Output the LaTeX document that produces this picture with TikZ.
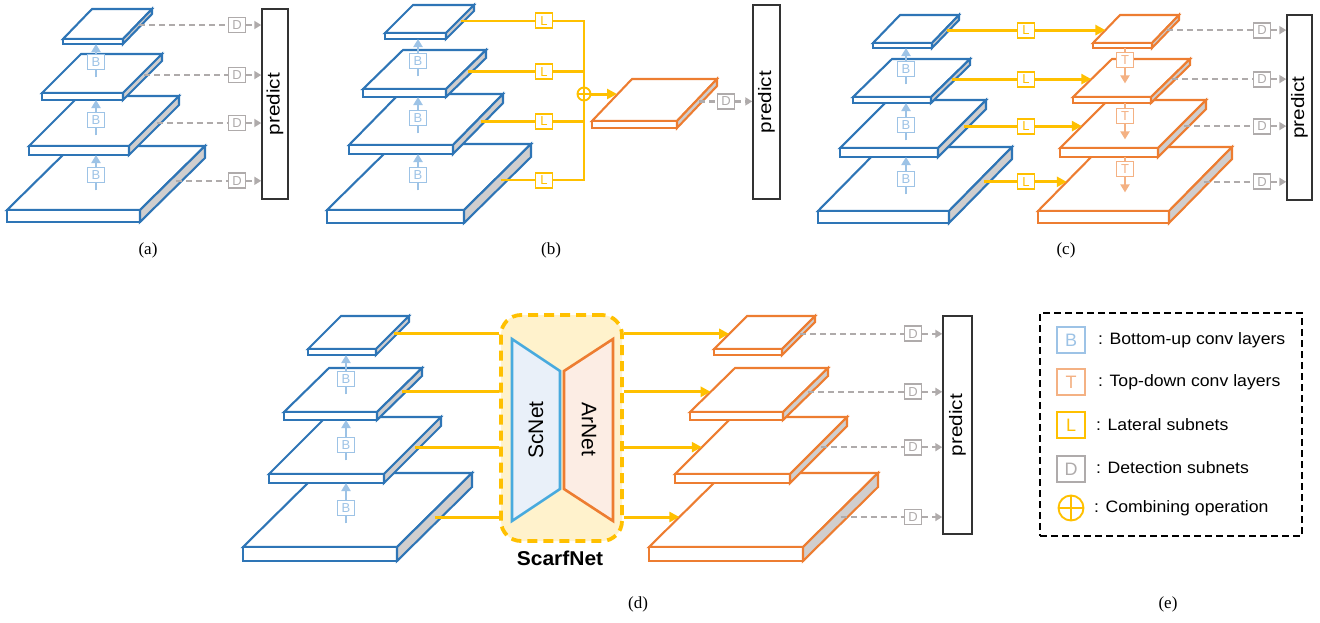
\documentclass[tikz,border=0pt]{standalone}
\usepackage{fontspec}
\setmainfont{Liberation Serif}
\setsansfont{Liberation Sans}
\usetikzlibrary{arrows.meta}
\definecolor{cblue}{RGB}{46,117,182}
\definecolor{clblue}{RGB}{157,195,230}
\definecolor{corange}{RGB}{237,125,49}
\definecolor{clorange}{RGB}{244,177,131}
\definecolor{cyellow}{RGB}{255,192,0}
\definecolor{cgray}{RGB}{175,171,171}
\definecolor{cside}{RGB}{208,206,206}
\definecolor{cscfill}{RGB}{255,242,204}
\definecolor{scline}{RGB}{72,170,222}
\definecolor{scfill}{RGB}{233,240,249}
\definecolor{arfill}{RGB}{252,237,228}
\newcommand\myfs[1]{\fontsize{#1}{#1}\selectfont}
% name x y w dx dy t colour f
\newcommand\slab[9]{%
  \filldraw[slabline,draw=#8,fill=white] (#2,#3) -- ({#2+#4},#3) -- ({#2+#4+#5},{#3-#6}) -- ({#2+#5},{#3-#6}) -- cycle;
  \filldraw[slabline,draw=#8,fill=white] (#2,#3) rectangle ({#2+#4},{#3+#7});
  \filldraw[slabline,draw=#8,fill=cside] ({#2+#4},#3) -- ({#2+#4+#5},{#3-#6}) -- ({#2+#4+#5},{#3-#6+#7}) -- ({#2+#4},{#3+#7}) -- cycle;
  \coordinate (#1-s) at ({#2+#4+#9*#5},{#3-#9*#6+#7/2});
  \coordinate (#1-l) at ({#2+(#9*#6-#7/2)*#5/#6},{#3-#9*#6+#7/2});
  \coordinate (#1-b) at ({#2+#4/2},{#3+#7});
}
\tikzset{
  slabline/.style={line width=2.1pt, line join=miter},
  smallbox/.style={draw, fill=white, line width=1.8pt, minimum width=17pt, minimum height=15pt, inner sep=0pt, font=\sffamily\myfs{13}},
  bbox/.style={smallbox, draw=clblue, text=clblue},
  tbox/.style={smallbox, draw=clorange, text=clorange},
  lbox/.style={smallbox, draw=cyellow, text=cyellow},
  dbox/.style={smallbox, draw=cgray, text=cgray},
  dline/.style={draw=cgray, line width=2.2pt, dash pattern=on 6pt off 4pt},
  darrow/.style={dline, -{Triangle[length=7pt,width=8pt]}},
  lline/.style={draw=cyellow, line width=2.2pt},
  larrow/.style={draw=cyellow, line width=3pt, -{Triangle[length=10pt,width=10pt]}},
  dlline/.style={draw=cyellow, line width=3pt},
  barrow/.style={draw=clblue, line width=2.8pt},
  barrowh/.style={barrow, -{Triangle[length=8pt,width=9pt]}},
  tarrow/.style={draw=clorange, line width=2.8pt},
  tarrowh/.style={tarrow, -{Triangle[length=8pt,width=9pt]}},
  pbox/.style={draw=black!80, line width=1.5pt, fill=white, inner sep=0pt, font=\sffamily\myfs{18}},
  captext/.style={font=\myfs{17}},
  plusnode/.style={circle, draw=cyellow, fill=white, line width=1.9pt, inner sep=0pt},
  legbox/.style={draw, fill=white, line width=2pt, minimum width=28pt, minimum height=26pt, inner sep=0pt, font=\sffamily\myfs{18}},
  legtext/.style={anchor=west, inner sep=0pt, font=\sffamily\myfs{16.5}},
}
\begin{document}
\begin{tikzpicture}[x=1pt,y=-1pt]
\useasboundingbox (0,0) rectangle (1320,622);
% ================= panel (a)
\slab{a4}{7}{210}{133}{65}{64}{12}{cblue}{0.55}
\slab{a3}{29}{146}{100}{50}{50}{9}{cblue}{0.55}
\slab{a2}{42}{93}{81}{39}{39}{7}{cblue}{0.55}
\slab{a1}{63}{39}{60}{29}{30}{5}{cblue}{0.55}
\node[bbox] (ab1) at (96,62) {B};
\node[bbox] (ab2) at (96,120) {B};
\node[bbox] (ab3) at (96,175) {B};
\foreach \b/\s in {ab1/a1,ab2/a2,ab3/a3}{
  \draw[barrow] ([yshift=-7pt]\b.south) -- (\b.south);
  \draw[barrowh] (\b.north) -- (\b |- \s-b);
}
\node[pbox, minimum width=26pt, minimum height=190pt] (pa) at (275,104) {\rotatebox{90}{\scalebox{1.15}[1]{predict}}};
\coordinate (acol) at (237,0);
\foreach \i in {1,2,3,4}{
  \node[dbox] (ad\i) at (a\i-s -| acol) {D};
  \draw[dline] (a\i-s) -- (ad\i.west);
  \draw[darrow] (ad\i.east) -- (ad\i.east -| pa.west);
}
% ================= panel (b)
\slab{b4}{327}{210}{137}{67}{66}{13}{cblue}{0.55}
\slab{b3}{349}{145}{104}{50}{51}{9}{cblue}{0.55}
\slab{b2}{363}{89}{83}{40}{39}{8}{cblue}{0.55}
\slab{b1}{385}{33}{61}{28}{28}{6}{cblue}{0.55}
\node[bbox] (bb1) at (418,61) {B};
\node[bbox] (bb2) at (418,118) {B};
\node[bbox] (bb3) at (418,175) {B};
\foreach \b/\s in {bb1/b1,bb2/b2,bb3/b3}{
  \draw[barrow] ([yshift=-7pt]\b.south) -- (\b.south);
  \draw[barrowh] (\b.north) -- (\b |- \s-b);
}
\coordinate (bcol) at (544,0);
\coordinate (bjx) at (584,0);
\foreach \i in {1,2,3,4}{
  \node[lbox] (bl\i) at (b\i-s -| bcol) {L};
  \draw[lline] (b\i-s) -- (bl\i.west);
}
\draw[lline] (bl1.east) -- (bl1.east -| bjx) -- (bl4.east -| bjx) -- (bl4.east);
\draw[lline] (bl2.east) -- (bl2.east -| bjx);
\draw[lline] (bl3.east) -- (bl3.east -| bjx);
\slab{bo}{592}{121}{85}{40}{42}{7}{corange}{0.55}
\node[plusnode, minimum size=13pt] (bplus) at (584,94) {};
\draw[cyellow, line width=1.9pt] (bplus.north) -- (bplus.south) (bplus.west) -- (bplus.east);
\coordinate (botgt) at (617,94);
\draw[larrow] (bplus.east) -- (botgt);
\node[pbox, minimum width=27pt, minimum height=194pt] (pb) at (766.5,102) {\rotatebox{90}{\scalebox{1.15}[1]{predict}}};
\node[dbox] (bd) at (bo-s -| 726,0) {D};
\draw[dline] (bo-s) -- (bd.west);
\draw[darrow] (bd.east) -- (bd.east -| pb.west);
% ================= panel (c)
\slab{c4}{818}{211}{131}{63}{64}{12}{cblue}{0.55}
\slab{c3}{840}{148}{98}{48}{48}{9}{cblue}{0.55}
\slab{c2}{853}{97}{78}{39}{38}{6}{cblue}{0.55}
\slab{c1}{873}{43}{59}{27}{28}{5}{cblue}{0.55}
\slab{co4}{1038}{211}{131}{63}{64}{12}{corange}{0.55}
\slab{co3}{1060}{148}{98}{48}{48}{9}{corange}{0.55}
\slab{co2}{1073}{97}{78}{39}{38}{6}{corange}{0.55}
\slab{co1}{1093}{43}{59}{27}{28}{5}{corange}{0.55}
\node[bbox] (cb1) at (906,69) {B};
\node[bbox] (cb2) at (906,125) {B};
\node[bbox] (cb3) at (906,179) {B};
\foreach \b/\s in {cb1/c1,cb2/c2,cb3/c3}{
  \draw[barrow] ([yshift=-7pt]\b.south) -- (\b.south);
  \draw[barrowh] (\b.north) -- (\b |- \s-b);
}
\node[tbox] (ct1) at (1125,60) {T};
\node[tbox] (ct2) at (1125,116) {T};
\node[tbox] (ct3) at (1125,169) {T};
\foreach \b/\s in {ct1/co1,ct2/co2,ct3/co3}{
  \draw[tarrow] (\b |- \s-b) -- (\b.north);
  \draw[tarrowh] (\b.south) -- ([yshift=-15pt]\b.south);
}
\coordinate (ccol) at (1026,0);
\foreach \i in {1,2,3,4}{
  \node[lbox] (cl\i) at (c\i-s -| ccol) {L};
  \draw[dlline] (c\i-s) -- (cl\i.west);
  \draw[larrow] (cl\i.east) -- (co\i-l);
}
\node[pbox, minimum width=25pt, minimum height=185pt] (pc) at (1299.5,107.5) {\rotatebox{90}{\scalebox{1.15}[1]{predict}}};
\coordinate (cdcol) at (1262,0);
\foreach \i in {1,2,3,4}{
  \node[dbox] (cd\i) at (co\i-s -| cdcol) {D};
  \draw[dline] (co\i-s) -- (cd\i.west);
  \draw[darrow] (cd\i.east) -- (cd\i.east -| pc.west);
}
% ================= panel (d)
\slab{d4}{243}{547}{154}{75}{74}{14}{cblue}{0.5}
\slab{d3}{269}{474}{115}{57}{57}{9}{cblue}{0.55}
\slab{d2}{284}{412}{93}{45}{44}{8}{cblue}{0.55}
\slab{d1}{308}{349}{68}{33}{33}{6}{cblue}{0.55}
\slab{do4}{649}{547}{154}{75}{74}{14}{corange}{0.5}
\slab{do3}{675}{474}{115}{57}{57}{9}{corange}{0.55}
\slab{do2}{690}{412}{93}{45}{44}{8}{corange}{0.55}
\slab{do1}{714}{349}{68}{33}{33}{6}{corange}{0.55}
\node[bbox] (db1) at (346,379) {B};
\node[bbox] (db2) at (346,445) {B};
\node[bbox] (db3) at (346,508) {B};
\foreach \b/\s in {db1/d1,db2/d2,db3/d3}{
  \draw[barrow] ([yshift=-7pt]\b.south) -- (\b.south);
  \draw[barrowh] (\b.north) -- (\b |- \s-b);
}
\node[draw=cyellow, fill=cscfill, line width=3.8pt, dash pattern=on 10pt off 6pt, rounded corners=20pt, minimum width=121pt, minimum height=226pt] (scarf) at (561.5,428) {};
\filldraw[draw=scline, fill=scfill, line width=2.6pt, line join=miter] (512,339) -- (560,371) -- (560,489) -- (512,521) -- cycle;
\filldraw[draw=corange, fill=arfill, line width=2.6pt, line join=miter] (564,371) -- (613,339) -- (613,521) -- (564,489) -- cycle;
\node[font=\sffamily\myfs{21}, rotate=90] (scnet) at (536,430) {ScNet};
\node[font=\sffamily\myfs{21}, rotate=-90] (arnet) at (589,429) {ArNet};
\node[font=\sffamily\bfseries\myfs{20}] (scarfname) at (560,558) {\scalebox{1.05}[1]{ScarfNet}};
\foreach \i in {1,2,3,4}{
  \draw[dlline] (d\i-s) -- (d\i-s -| scarf.west);
  \draw[larrow] (d\i-s -| scarf.east) -- (do\i-l);
}
\node[pbox, minimum width=29pt, minimum height=218pt] (pd) at (957.5,425) {\rotatebox{90}{\scalebox{1.15}[1]{predict}}};
\coordinate (ddcol) at (913,0);
\foreach \i in {1,2,3,4}{
  \node[dbox] (dd\i) at (do\i-s -| ddcol) {D};
  \draw[dline] (do\i-s) -- (dd\i.west);
  \draw[darrow] (dd\i.east) -- (dd\i.east -| pd.west);
}
% ================= legend (e)
\node[draw=black, line width=2pt, dash pattern=on 7pt off 4pt, minimum width=262pt, minimum height=223pt] (legend) at (1171,424.5) {};
\node[legbox, draw=clblue, text=clblue] (lgb) at (1071,340) {B};
\node[legbox, draw=clorange, text=clorange] (lgt) at (1071,382) {T};
\node[legbox, draw=cyellow, text=cyellow] (lgl) at (1071,425) {L};
\node[legbox, draw=cgray, text=cgray] (lgd) at (1071,469) {D};
\node[plusnode, minimum size=25pt] (lgp) at (1071,508) {};
\draw[cyellow, line width=1.9pt] (lgp.north) -- (lgp.south) (lgp.west) -- (lgp.east);
\node[legtext] (tb) at (1098,340) {\scalebox{1.07}[1]{: Bottom-up conv layers}};
\node[legtext] (tt) at (1098,382) {\scalebox{1.07}[1]{: Top-down conv layers}};
\node[legtext] (tl) at (1096,425) {\scalebox{1.07}[1]{: Lateral subnets}};
\node[legtext] (td) at (1096,468) {\scalebox{1.07}[1]{: Detection subnets}};
\node[legtext] (tp) at (1094,508) {\scalebox{1.07}[1]{: Combining operation}};
% ================= captions
\node[captext] (capa) at (148,250) {(a)};
\node[captext] (capb) at (551,250) {(b)};
\node[captext] (capc) at (1066,250) {(c)};
\node[captext] (capd) at (638,604) {(d)};
\node[captext] (cape) at (1168,604) {(e)};
\end{tikzpicture}
\end{document}
